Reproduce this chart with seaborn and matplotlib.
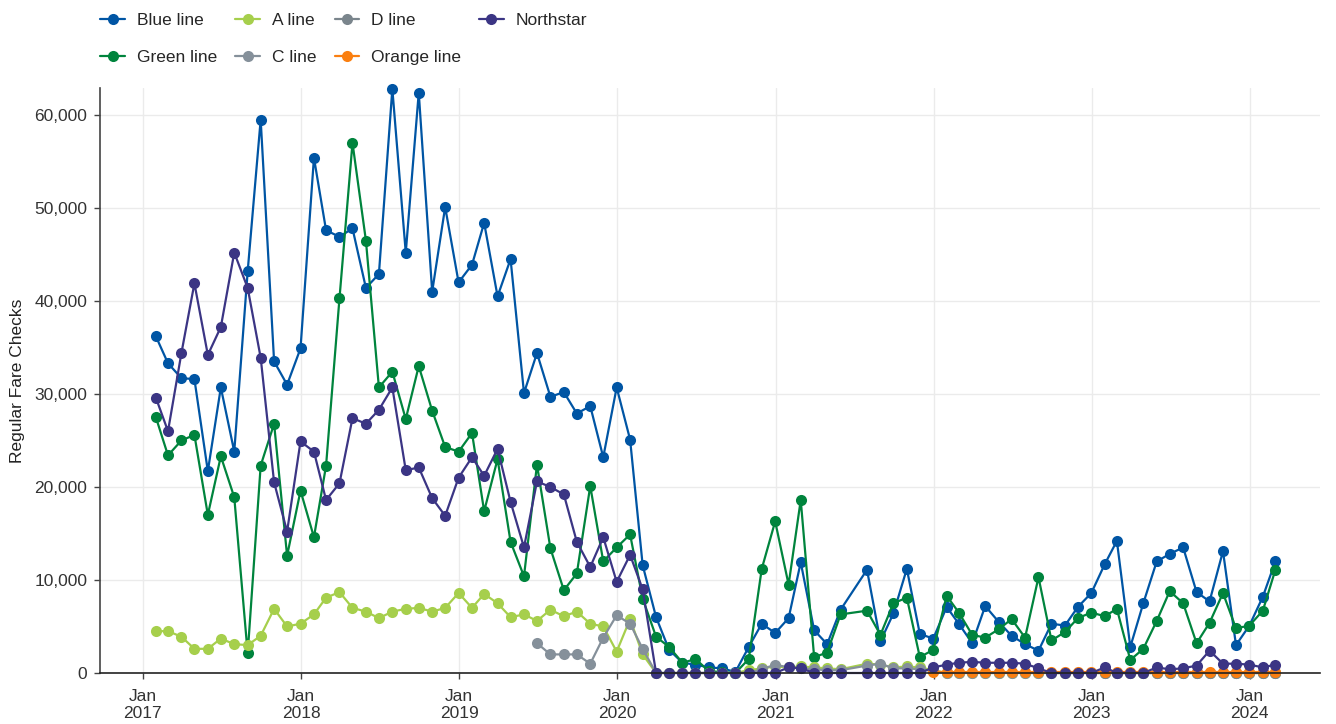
import numpy as np
import pandas as pd
import matplotlib
matplotlib.use("Agg")
import matplotlib.pyplot as plt
import matplotlib.dates as mdates
from matplotlib.lines import Line2D
from matplotlib.ticker import FuncFormatter, MultipleLocator
import seaborn as sns

nan = np.nan

# monthly, Jan 2017 .. Feb 2024 (month-end dates)
months = pd.date_range("2017-01-31", periods=86, freq="ME")

blue_line = [36200, 33300, 31700, 31600, 21700, 30700, 23800, 43200, 59500, 33500, 31000, 34900,
             55400, 47600, 46900, 47800, 41400, 42900, 62800, 45200, 62400, 41000, 50100, 42000,
             43900, 48400, 40500, 44500, 30100, 34400, 29700, 30200, 27900, 28700, 23200, 30700,
             25100, 11600, 6000, 2500, 1100, 900, 600, 500, 100, 2800, 5300, 4300,
             5900, 11900, 4600, 3100, 6800, nan, 11100, 3400, 6400, 11200, 4200, 3700,
             7100, 5300, 3200, 7200, 5500, 4000, 3100, 2400, 5300, 5100, 7100, 8600,
             11700, 14200, 2800, 7500, 12000, 12800, 13500, 8700, 7700, 13100, 3000, 5100,
             8200, 12000]

green_line = [27500, 23400, 25000, 25600, 17000, 23300, 18900, 2100, 22300, 26800, 12600, 19600,
              14600, 22300, 40300, 57000, 46500, 30700, 32400, 27300, 33000, 28200, 24300, 23800,
              25800, 17400, 23000, 14100, 10400, 22400, 13400, 8900, 10700, 20100, 12000, 13500,
              14900, 8000, 3900, 2800, 1100, 1500, 200, 100, 0, 1500, 11200, 16300,
              9500, 18600, 1700, 2200, 6300, nan, 6700, 4100, 7500, 8100, 1700, 2500,
              8300, 6500, 4100, 3800, 4700, 5800, 3800, 10300, 3500, 4400, 5900, 6500,
              6100, 6900, 1400, 2600, 5600, 8800, 7500, 3200, 5400, 8600, 4800, 5100,
              6700, 11100]

a_line = [4500, 4500, 3900, 2600, 2600, 3700, 3100, 3000, 4000, 6900, 5000, 5300,
          6300, 8100, 8700, 7000, 6600, 5900, 6600, 6900, 7000, 6600, 7000, 8600,
          7000, 8500, 7500, 6000, 6300, 5600, 6800, 6100, 6600, 5300, 5000, 2300,
          5800, 2000, 0, 0, 0, 0, 0, 0, 0, 300, 500, 700,
          600, 700, 600, 500, 400, nan, 1000, 900, 600, 700, 600, 300,
          0, 0, 0, 0, 0, 0, 0, 0, 0, 0, 0, 0,
          0, 0, 0, 0, 0, 0, 0, 0, 0, 0, 0, 0,
          0, 0]

c_line = [nan] * 29 + [3200, 2000, 2000, 2000, 1000, 3800, 6200,
          5300, 2600, 0, 0, 0, 0, 0, 0, 0, 0, 400, 900,
          600, 500, 400, 300, 300, nan, 800, 1000, 500, 500, 400, 200,
          0, 0, 0, 0, 0, 0, 0, 0, 0, 0, 0, 0,
          0, 0, 0, 0, 0, 0, 0, 0, 0, 0, 0, 0,
          0, 0]

d_line = [nan] * 71 + [0, 0, 0, 0, 0, 0, 0, 0, 0, 0, 0, 0, 0, 0, 0]

orange_line = [nan] * 59 + [100, 100, 100, 100, 100, 100, 100, 100, 100, 100, 100, 100, 100,
                            100, 100, 100, 100, 100, 100, 100, 100, 100, 100, 100, 100, 100, 100]

northstar = [29600, 26000, 34400, 41900, 34200, 37200, 45200, 41400, 33900, 20500, 15200, 24900,
             23800, 18600, 20400, 27400, 26800, 28300, 30700, 21800, 22100, 18800, 16900, 21000,
             23200, 21200, 24100, 18400, 13500, 20600, 20000, 19200, 14100, 11400, 14600, 9800,
             12700, 9000, 0, 0, 0, 0, 0, 0, 0, 0, 0, 0,
             600, 500, 0, 0, 0, nan, 0, 0, 0, 0, 0, 600,
             900, 1100, 1200, 1100, 1100, 1100, 1000, 500, 0, 0, 0, 0,
             600, 0, 0, 0, 600, 400, 500, 800, 2400, 1000, 1000, 900,
             600, 900]

line_names = ["Blue line", "Green line", "A line", "C line", "D line", "Orange line", "Northstar"]
line_values = [blue_line, green_line, a_line, c_line, d_line, orange_line, northstar]
line_colors = ["#0055A4", "#00843D", "#A6CF4C", "#85909A", "#7A858C", "#FA7F10", "#3B3584"]

frames = []
for name, vals in zip(line_names, line_values):
    frames.append(pd.DataFrame({"month": months, "line": name, "checks": vals}))
df = pd.concat(frames, ignore_index=True).dropna()

sns.set_theme(style="white")
plt.rcParams["font.family"] = ["Liberation Sans", "DejaVu Sans"]

fig = plt.figure(figsize=(13.36, 7.24), dpi=100)
ax = fig.add_axes([100 / 1336, 51 / 724, 1220 / 1336, 585 / 724])

sns.lineplot(data=df, x="month", y="checks", hue="line", hue_order=line_names,
             palette=dict(zip(line_names, line_colors)), marker="o", markersize=8,
             markeredgewidth=0, linewidth=1.6, errorbar=None, legend=False,
             clip_on=False, ax=ax)

ax.set_xlim(pd.Timestamp("2016-09-24"), pd.Timestamp("2024-06-11"))
ax.set_ylim(0, 62900)
ax.yaxis.set_major_locator(MultipleLocator(10000))
ax.yaxis.set_major_formatter(FuncFormatter(lambda v, p: f"{int(v):,}"))
ax.xaxis.set_major_locator(mdates.YearLocator())
ax.xaxis.set_major_formatter(mdates.DateFormatter("%b\n%Y"))

ax.grid(True, color="#EBEBEB", linewidth=1)
ax.set_axisbelow(True)
for s in ["top", "right"]:
    ax.spines[s].set_visible(False)
ax.spines["left"].set_color("#444444")
ax.spines["left"].set_linewidth(1.2)
ax.spines["bottom"].set_color("#222222")
ax.spines["bottom"].set_linewidth(1.2)
ax.tick_params(axis="both", which="major", length=4, width=1, color="#444444",
               labelsize=12.5, labelcolor="#333333", bottom=True, left=True)
ax.tick_params(axis="x", pad=7.5)
ax.tick_params(axis="y", pad=5)

ax.set_xlabel("")
ax.set_ylabel("Regular Fare Checks", fontsize=12.5, color="#222222", labelpad=7)

handles = [Line2D([0], [0], color=c, marker="o", markersize=8, markeredgewidth=0,
                  linewidth=1.6) for c in line_colors]
fig.legend(handles, line_names, loc="upper left", bbox_to_anchor=(97 / 1336, 1 - 9 / 724),
           ncol=4, frameon=False, fontsize=12.5, handlelength=1.4, handletextpad=0.7,
           columnspacing=1.05, labelspacing=1.3, borderaxespad=0, borderpad=0.2)

fig.savefig("out.png", dpi=100)
